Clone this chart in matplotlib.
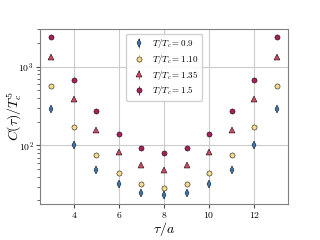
import numpy as np
import matplotlib
matplotlib.use('agg')
from matplotlib import pyplot as plt, rcParams

rcParams['font.family'] = 'serif'
rcParams['font.serif'] = ['cmr10']
rcParams['mathtext.fontset'] = 'cm'
rcParams['axes.formatter.use_mathtext'] = True

tau = [3, 4, 5, 6, 7, 8, 9, 10, 11, 12, 13]

c_090 = [289, 100, 49, 32, 25, 23.2, 25, 32, 49, 100, 289]
c_110 = [567, 173, 76, 44.5, 32.2, 28.6, 32.2, 44.5, 76, 173, 567]
c_135 = [1341, 384, 155, 81.5, 57, 49, 57, 81.5, 155, 384, 1341]
c_150 = [2355, 676, 273, 141, 93.5, 80.7, 93.5, 141, 273, 676, 2355]

err_frac = 0.04

fig = plt.figure(figsize=(3.2, 2.4), dpi=100)
ax = fig.add_axes([0.125, 0.15, 0.775, 0.729])

series = [
    (c_090, 'd', '#3d78b2', r'$T/T_c = 0.9$'),
    (c_110, 'o', '#f5d98c', r'$T/T_c = 1.10$'),
    (c_135, '^', '#c84c66', r'$T/T_c = 1.35$'),
    (c_150, 'o', '#a8205a', r'$T/T_c = 1.5$'),
]
for vals, mk, col, lab in series:
    vals = np.array(vals)
    ax.errorbar(tau, vals, yerr=err_frac * vals, fmt=mk, color=col, ms=3.7,
                mec='black', mew=0.35, ecolor=col, elinewidth=0.7, label=lab)

ax.set_yscale('log')
ax.set_xlim(2.5, 13.5)
ax.set_ylim(18, 3000)
ax.set_xticks([4, 6, 8, 10, 12])
ax.grid(True, which='major', color='#cccccc', linewidth=0.8)
ax.set_axisbelow(True)
for s in ax.spines.values():
    s.set_color('0.5')
ax.tick_params(labelsize=7, colors='0.3', labelcolor='black', length=3, pad=1.5)
ax.tick_params(which='minor', colors='0.3', length=2)

ax.set_xlabel(r'$\tau/a$', size=10)
ax.set_ylabel(r'$C(\tau)/T_c^5$', size=10)
ax.xaxis.set_label_coords(0.5, -0.09)
ax.yaxis.set_label_coords(-0.065, 0.5)

ax.legend(loc='upper center', fontsize=6.5, handletextpad=0.5,
          borderpad=0.4, labelspacing=0.3, framealpha=0.9)

fig.savefig('out.png', dpi=100)
